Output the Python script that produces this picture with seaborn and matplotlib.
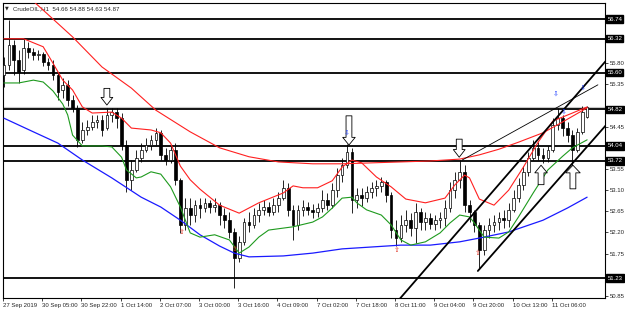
import matplotlib
matplotlib.use("Agg")
import numpy as np
import pandas as pd
import seaborn as sns
import matplotlib.pyplot as plt

# CrudeOIL candles (2-hour bars, 27 Sep - 11 Oct 2019)
opens = [55.55, 55.76, 56.19, 55.87, 55.66, 56.12, 56.04, 55.97, 56.00, 55.83,
         55.76, 55.55, 55.23, 55.34, 55.02, 54.85, 54.17, 54.38, 54.44, 54.55,
         54.59, 54.42, 54.70, 54.76, 54.63, 54.06, 53.32, 53.53, 53.78, 53.95,
         54.06, 54.17, 54.32, 53.85, 53.74, 53.95, 53.32, 52.36, 52.72, 52.57,
         52.78, 52.72, 52.83, 52.74, 52.78, 52.57, 52.46, 52.21, 51.66, 52.00,
         52.42, 52.36, 52.57, 52.68, 52.74, 52.64, 52.78, 52.93, 53.15, 52.68,
         52.36, 52.68, 52.74, 52.68, 52.64, 52.72, 52.89, 52.78, 53.10, 53.42,
         53.63, 53.91, 52.89, 53.00, 52.93, 53.06, 53.15, 53.19, 53.27, 53.00,
         52.25, 52.08, 52.36, 52.46, 52.30, 52.64, 52.42, 52.51, 52.38, 52.46,
         52.51, 52.72, 53.10, 53.32, 53.49, 52.78, 52.64, 52.36, 51.83, 52.25,
         52.36, 52.42, 52.51, 52.46, 52.68, 52.93, 53.21, 53.49, 53.78, 54.00,
         53.85, 53.78, 53.95, 54.49, 54.63, 54.42, 54.27, 53.95, 54.34, 54.66]
closes = [55.76, 56.19, 55.87, 55.61, 56.12, 56.04, 55.97, 56.00, 55.83, 55.76,
          55.55, 55.19, 55.34, 55.02, 54.85, 54.17, 54.38, 54.44, 54.55, 54.59,
          54.38, 54.70, 54.76, 54.63, 54.06, 53.32, 53.53, 53.78, 53.95, 54.06,
          54.17, 54.32, 53.85, 53.74, 53.95, 53.32, 52.36, 52.72, 52.57, 52.78,
          52.72, 52.83, 52.74, 52.78, 52.57, 52.46, 52.21, 51.66, 52.00, 52.42,
          52.36, 52.57, 52.68, 52.74, 52.64, 52.78, 52.93, 53.15, 52.68, 52.36,
          52.68, 52.74, 52.68, 52.64, 52.72, 52.89, 52.78, 53.10, 53.42, 53.63,
          53.91, 52.89, 53.00, 52.93, 53.06, 53.15, 53.19, 53.27, 53.00, 52.25,
          52.08, 52.36, 52.46, 52.30, 52.64, 52.42, 52.51, 52.38, 52.46, 52.51,
          52.72, 53.10, 53.32, 53.49, 52.78, 52.64, 52.36, 51.83, 52.25, 52.36,
          52.42, 52.51, 52.46, 52.68, 52.93, 53.21, 53.49, 53.78, 54.00, 53.85,
          53.78, 53.95, 54.49, 54.63, 54.42, 54.27, 53.95, 54.34, 54.76, 54.87]
highs = [55.93, 56.72, 56.29, 56.08, 56.34, 56.25, 56.12, 56.08, 56.04, 55.91,
         55.87, 55.61, 55.49, 55.44, 55.12, 54.91, 54.55, 54.59, 54.70, 54.70,
         54.70, 54.85, 54.85, 54.85, 54.74, 54.17, 53.74, 53.95, 54.10, 54.21,
         54.27, 54.42, 54.38, 54.00, 54.06, 54.10, 53.36, 52.93, 52.93, 52.89,
         52.93, 52.93, 52.89, 52.93, 52.85, 52.72, 52.64, 52.30, 52.13, 52.51,
         52.64, 52.72, 52.83, 52.89, 52.85, 52.93, 53.06, 53.32, 53.25, 52.78,
         52.78, 52.89, 52.85, 52.80, 52.83, 53.10, 53.04, 53.25, 53.57, 53.78,
         54.08, 54.00, 53.15, 53.15, 53.19, 53.27, 53.32, 53.38, 53.32, 53.06,
         52.46, 52.57, 52.68, 52.61, 52.83, 52.72, 52.64, 52.61, 52.57, 52.64,
         52.89, 53.27, 53.49, 53.74, 53.63, 52.89, 52.68, 52.42, 52.36, 52.51,
         52.57, 52.64, 52.68, 52.83, 53.10, 53.36, 53.61, 53.91, 54.17, 54.12,
         54.00, 54.04, 54.63, 54.85, 54.70, 54.55, 54.38, 54.42, 54.89, 54.88]
lows = [55.29, 55.66, 55.55, 55.38, 55.57, 55.91, 55.87, 55.87, 55.74, 55.66,
        55.44, 55.02, 55.06, 54.89, 54.76, 54.02, 54.10, 54.27, 54.38, 54.42,
        54.25, 54.38, 54.55, 54.42, 53.95, 53.06, 53.10, 53.49, 53.70, 53.91,
        53.95, 54.06, 53.74, 53.63, 53.68, 53.21, 52.19, 52.25, 52.36, 52.42,
        52.51, 52.64, 52.61, 52.64, 52.36, 52.30, 52.08, 51.02, 51.57, 51.93,
        52.21, 52.30, 52.42, 52.57, 52.55, 52.57, 52.64, 52.89, 52.55, 52.04,
        52.25, 52.55, 52.57, 52.51, 52.53, 52.64, 52.68, 52.72, 52.95, 53.27,
        53.57, 52.61, 52.72, 52.76, 52.85, 52.93, 52.97, 53.06, 52.85, 52.08,
        51.91, 52.00, 52.21, 52.13, 51.97, 52.25, 52.25, 52.27, 52.25, 52.30,
        52.34, 52.64, 52.93, 53.15, 52.64, 52.42, 52.21, 51.44, 51.72, 52.08,
        52.21, 52.25, 52.30, 52.32, 52.64, 52.85, 53.10, 53.40, 53.74, 53.74,
        53.68, 53.70, 53.91, 54.38, 54.25, 54.12, 53.59, 53.91, 54.30, 54.63]

time_labels = ["27 Sep 2019", "30 Sep 05:00", "30 Sep 22:00", "1 Oct 14:00",
               "2 Oct 07:00", "3 Oct 00:00", "3 Oct 16:00", "4 Oct 09:00",
               "7 Oct 02:00", "7 Oct 18:00", "8 Oct 11:00", "9 Oct 04:00",
               "9 Oct 20:00", "10 Oct 13:00", "11 Oct 06:00"]
label_bars = [0, 8, 16, 24, 32, 40, 48, 56, 64, 72, 80, 88, 96, 104, 112]

# horizontal levels, bid and price scale
levels = [56.74, 56.32, 55.60, 54.82, 54.04, 53.72, 51.23]
bid = 54.87
price_ticks = [50.85, 51.30, 51.75, 52.20, 52.65, 53.10, 53.55, 54.00,
               54.45, 54.90, 55.35, 55.80, 56.25, 56.70]
hidden_ticks = [51.30, 54.00, 54.90, 56.25, 56.70]  # covered by the level boxes

# indicator lines (bar index, price)
slow_bars = [0, 8, 14, 20, 26, 31, 38, 44, 50, 56, 63, 69, 75, 81, 87, 93, 97, 101, 105, 110, 114, 119]
slow_vals = [57.68, 56.93, 56.36, 55.72, 55.27, 54.80, 54.34, 54.00, 53.81, 53.70, 53.66,
             53.66, 53.68, 53.70, 53.72, 53.76, 53.85, 53.97, 54.12, 54.32, 54.55, 54.85]
blue_bars = [0, 6, 11, 16, 22, 28, 32, 36, 40, 44, 47, 50, 57, 63, 69, 75, 81, 87, 93, 97, 103, 110, 115, 119]
blue_vals = [54.63, 54.34, 54.10, 53.74, 53.36, 52.95, 52.74, 52.46, 52.15, 51.91, 51.76, 51.68,
             51.70, 51.76, 51.85, 51.89, 51.93, 51.93, 52.00, 52.08, 52.21, 52.46, 52.72, 52.95]
upper_bars = [0, 4, 8, 10, 12, 14, 16, 18, 22, 24, 26, 30, 32, 34, 36, 38, 40, 44, 48, 52, 57,
              59, 61, 64, 67, 69, 71, 73, 76, 79, 82, 86, 90, 92, 94, 95, 97, 100, 103, 106,
              109, 112, 116, 119]
upper_vals = [56.32, 56.32, 56.15, 55.80, 55.44, 55.23, 54.87, 54.74, 54.76, 54.63, 54.42,
              54.38, 54.32, 54.10, 53.61, 53.32, 53.12, 52.78, 52.61, 52.83, 53.04, 53.19,
              53.15, 53.15, 53.30, 53.59, 53.74, 53.68, 53.38, 53.17, 52.91, 52.83, 52.93,
              53.21, 53.42, 53.36, 52.91, 52.78, 53.10, 53.59, 54.12, 54.57, 54.74, 54.87]
lower_bars = [0, 3, 6, 8, 10, 12, 13, 14, 16, 20, 22, 24, 25, 27, 28, 30, 32, 34, 36, 38, 40,
              43, 46, 48, 50, 52, 54, 59, 63, 65, 67, 69, 71, 72, 74, 77, 79, 81, 83, 86, 89,
              91, 93, 95, 96, 98, 101, 103, 105, 108, 111, 114, 116, 119]
lower_vals = [55.38, 55.38, 55.44, 55.40, 55.21, 54.93, 54.70, 54.27, 54.04, 54.04, 54.02,
              53.80, 53.53, 53.36, 53.38, 53.49, 53.44, 53.17, 52.74, 52.19, 52.10, 52.15,
              52.04, 51.76, 51.89, 52.10, 52.25, 52.32, 52.42, 52.53, 52.72, 52.93, 52.95,
              52.83, 52.68, 52.57, 52.36, 52.04, 51.93, 52.00, 52.19, 52.40, 52.57, 52.53,
              52.40, 52.10, 52.08, 52.21, 52.53, 53.04, 53.53, 53.82, 54.00, 54.17]

# trend lines drawn on the chart
chan_up_bars, chan_up_vals = [80.2, 123.0], [50.72, 55.87]
chan_lo_bars, chan_lo_vals = [96.7, 123.0], [51.38, 54.50]
thin_bars, thin_vals = [93.5, 121.2], [53.74, 55.34]

# hand-drawn hollow arrows: bar, tip price, direction
arrow_bars = [21, 70.4, 92.9, 109.6, 116.1]
arrow_tips = [54.91, 54.06, 53.80, 53.63, 53.63]
arrow_dirs = ["down", "down", "down", "up", "up"]
blue_mark_bars = [70.0, 112.7, 114.2, 118.2]
blue_mark_vals = [54.32, 55.15, 54.76, 55.27]
red_mark_bars = [36.3, 47.1, 80.2, 96.7]
red_mark_vals = [52.21, 51.85, 51.83, 51.76]

sns.set_style("white")
plt.rcParams["font.family"] = ["Liberation Sans", "DejaVu Sans"]

fig = plt.figure(figsize=(6.25, 3.09), dpi=100)
ax = fig.add_axes([3 / 625, 11 / 309, 602 / 625, 295 / 309])

df = pd.DataFrame({"open": opens, "high": highs, "low": lows, "close": closes})
df["bar"] = np.arange(len(df))
up = df["close"] >= df["open"]

for lvl in levels:
    ax.axhline(lvl, color="black", lw=1.3, zorder=2)
ax.axhline(bid, color="#c8c8c8", lw=0.8, zorder=1.5)

ax.vlines(df["bar"], df["low"], df["high"], color="black", lw=0.6, zorder=3)
ax.bar(df["bar"][up], (df["close"] - df["open"])[up], bottom=df["open"][up], width=0.55,
       color="white", edgecolor="black", lw=0.5, zorder=4)
ax.bar(df["bar"][~up], (df["close"] - df["open"])[~up], bottom=df["open"][~up], width=0.55,
       color="black", edgecolor="black", lw=0.5, zorder=4)

sns.lineplot(x=slow_bars, y=slow_vals, color="#ff2020", lw=0.8, ax=ax, zorder=5)
sns.lineplot(x=blue_bars, y=blue_vals, color="#1a1aff", lw=0.9, ax=ax, zorder=5)
sns.lineplot(x=upper_bars, y=upper_vals, color="#ff2020", lw=0.8, ax=ax, zorder=5)
sns.lineplot(x=lower_bars, y=lower_vals, color="#1e9a1e", lw=0.8, ax=ax, zorder=5)

ax.plot(chan_up_bars, chan_up_vals, color="black", lw=1.3, zorder=6)
ax.plot(chan_lo_bars, chan_lo_vals, color="black", lw=1.3, zorder=6)
ax.plot(thin_bars, thin_vals, color="black", lw=0.6, zorder=6)

arrow_len = [12, 21, 13, 14, 17]
arrow_head = [0.85, 0.9, 0.85, 0.9, 1.05]
for b, tip, d, ln, hw in zip(arrow_bars, arrow_tips, arrow_dirs, arrow_len, arrow_head):
    off = ln if d == "down" else -ln
    ax.annotate("", xy=(b, tip), xytext=(0, off), textcoords="offset points",
                arrowprops=dict(arrowstyle=f"simple,head_length=0.55,head_width={hw},tail_width=0.42",
                                fc="white", ec="black", lw=0.6, shrinkA=0, shrinkB=0,
                                mutation_scale=10), zorder=8)
for b, v in zip(blue_mark_bars, blue_mark_vals):
    ax.text(b, v, "\u21e9", color="#2040ff", fontsize=5, ha="center", va="center",
            family="DejaVu Sans", zorder=9)
for b, v in zip(red_mark_bars, red_mark_vals):
    ax.text(b, v, "\u21e7", color="#e03020", fontsize=5, ha="center", va="center",
            family="DejaVu Sans", zorder=9)

ax.set_xlim(-0.2, 122.65)
ax.set_ylim(50.805, 57.081)
ax.set_xlabel("")
ax.set_ylabel("")

ax.set_xticks([b - 0.2 for b in label_bars])
ax.set_xticklabels(time_labels, ha="left", fontsize=4.3)
ax.yaxis.tick_right()
ax.set_yticks(price_ticks)
ax.set_yticklabels(["" if v in hidden_ticks else f"{v:.2f}" for v in price_ticks], fontsize=4.3)
ax.tick_params(axis="x", direction="out", length=2.5, width=0.6, pad=1, bottom=True)
ax.tick_params(axis="y", direction="out", length=2, width=0.6, pad=1.5, right=True)
for s in ax.spines.values():
    s.set_color("black")
    s.set_linewidth(0.8)

for lvl in levels:
    ax.text(1.004, lvl, f"{lvl:.2f}", transform=ax.get_yaxis_transform(), ha="left",
            va="center", fontsize=4.3, color="white", clip_on=False, zorder=10,
            bbox=dict(boxstyle="square,pad=0.2", fc="black", ec="black"))

ax.text(0.004, 0.982, "\u25bc", transform=ax.transAxes, fontsize=3.5, va="center",
        family="DejaVu Sans")
ax.text(0.0166, 0.982, "CrudeOIL,H1  54.66 54.88 54.63 54.87", transform=ax.transAxes,
        fontsize=4.4, va="center")

fig.savefig("out.png", dpi=100)
